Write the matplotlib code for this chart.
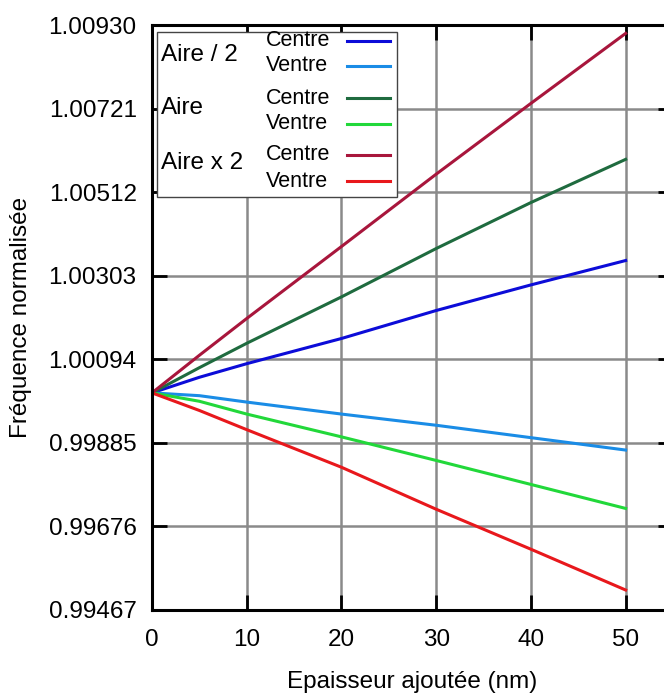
import matplotlib

matplotlib.use("Agg")
from matplotlib import pyplot as plt
from matplotlib.lines import Line2D
from matplotlib.patches import Rectangle

plt.rcParams["font.family"] = ["Liberation Sans", "DejaVu Sans"]

# epaisseur ajoutee (nm)
thickness = [0, 5, 10, 20, 30, 40, 50]

# frequence normalisee
aire_half_centre = [1.00010, 1.00049, 1.00083, 1.00146, 1.00216, 1.00280, 1.00341]
aire_half_ventre = [1.00010, 1.00003, 0.99987, 0.99957, 0.99929, 0.99898, 0.99867]
aire_centre = [1.00010, 1.00073, 1.00134, 1.00250, 1.00371, 1.00486, 1.00594]
aire_ventre = [1.00010, 0.99989, 0.99957, 0.99900, 0.99841, 0.99781, 0.99721]
aire_double_centre = [1.00010, 1.00104, 1.00196, 1.00376, 1.00557, 1.00734, 1.00909]
aire_double_ventre = [1.00010, 0.99966, 0.99918, 0.99824, 0.99719, 0.99619, 0.99517]

y_ticks = [0.99467, 0.99676, 0.99885, 1.00094, 1.00303, 1.00512, 1.00721, 1.00930]
x_ticks = [0, 10, 20, 30, 40, 50]

groups = ["Aire / 2", "Aire", "Aire x 2"]
entries = ["Centre", "Ventre"]

series = [
    (aire_half_centre, "#0c0cd8"),
    (aire_half_ventre, "#1a8ce6"),
    (aire_centre, "#1f6b3f"),
    (aire_ventre, "#22d83a"),
    (aire_double_centre, "#a8163c"),
    (aire_double_ventre, "#e8181c"),
]

W, H = 664, 693


def fx(px):
    return px / W


def fy(py):
    return 1 - py / H


fig = plt.figure(figsize=(W / 100, H / 100), dpi=100)
# the right edge of the frame is cut off in the original
ax = fig.add_axes([fx(152), fy(610), (673 - 152) / W, (610 - 25) / H])

for values, color in series:
    ax.plot(thickness, values, color=color, lw=2.2, zorder=3,
            solid_joinstyle="round")

ax.set_xlim(0, 55)
ax.set_ylim(y_ticks[0], y_ticks[-1])
ax.set_xticks(x_ticks)
ax.set_yticks(y_ticks)
ax.set_yticklabels([f"{v:.5f}" for v in y_ticks])
ax.grid(True, color="#8a8a8a", lw=1.8, zorder=1)
ax.set_axisbelow(True)
ax.tick_params(
    direction="in", length=11, width=2, top=True, right=True,
    labelsize=17.5, pad=11,
)
ax.tick_params(axis="x", pad=14)
for spine in ax.spines.values():
    spine.set_linewidth(2.2)
    spine.set_zorder(4)

ax.set_xlabel("Epaisseur ajoutée (nm)", fontsize=17.5, labelpad=14)
ax.set_ylabel("Fréquence normalisée", fontsize=17.5, labelpad=12)

# legend box drawn by hand: group name on the left, two entries on the right
fig.add_artist(Rectangle(
    (fx(157), fy(197)), (397 - 157) / W, (197 - 32) / H,
    transform=fig.transFigure, facecolor="white", edgecolor="#444444",
    lw=1.0, zorder=5,
))
row_y = [41, 65.5, 98, 123.5, 154.5, 181.5]
group_y = [55, 108, 163]
for gname, gy in zip(groups, group_y):
    fig.text(fx(161), fy(gy), gname, fontsize=17.5, va="center", ha="left",
             zorder=6)
for i, ((values, color), ry) in enumerate(zip(series, row_y)):
    fig.text(fx(266), fy(ry), entries[i % 2], fontsize=15.5, va="center",
             ha="left", zorder=6)
    fig.add_artist(Line2D([fx(347), fx(390)], [fy(ry), fy(ry)],
                          transform=fig.transFigure, color=color, lw=2.2,
                          zorder=6))

fig.savefig("out.png", dpi=100)
